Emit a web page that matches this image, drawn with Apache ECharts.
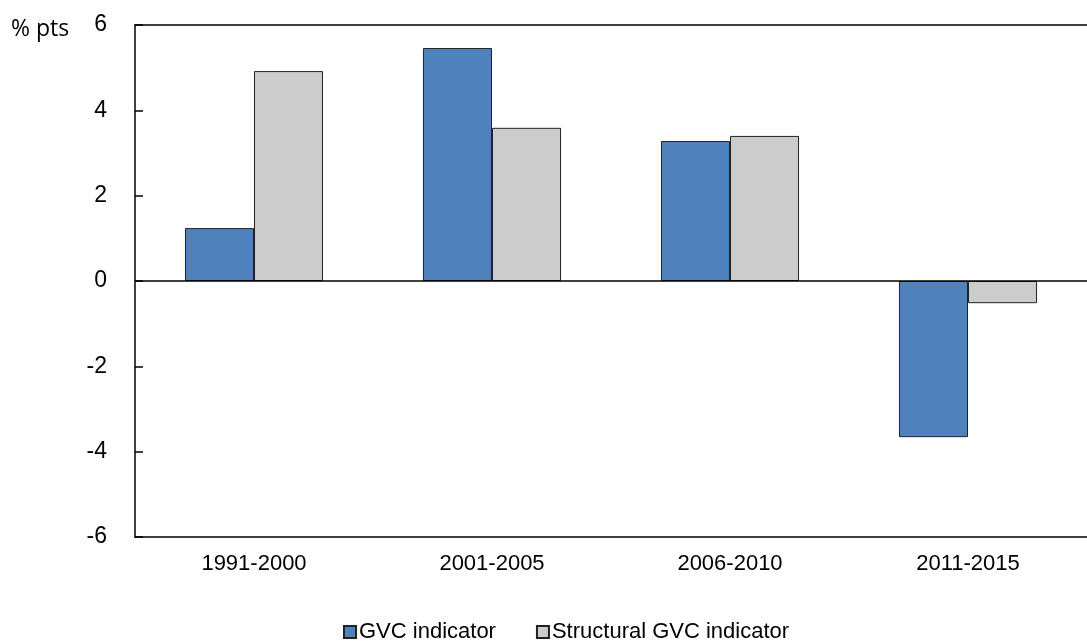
<!DOCTYPE html>
<html>
<head>
<meta charset="utf-8">
<script src="https://cdn.jsdelivr.net/npm/echarts@6/dist/echarts.min.js"></script>
<style>
html,body{margin:0;padding:0;background:#fff;}
#chart{width:1087px;height:644px;}
</style>
</head>
<body>
<div id="chart"></div>
<script>
const categories = ['1991-2000', '2001-2005', '2006-2010', '2011-2015'];
const gvcIndicator = [1.24, 5.46, 3.28, -3.66];
const structuralGvc = [4.92, 3.59, 3.40, -0.52];
const seriesNames = ['GVC indicator', 'Structural GVC indicator'];
const yUnit = '% pts';

const sans = '"Liberation Sans", Arial, sans-serif';
const chart = echarts.init(document.getElementById('chart'));
chart.setOption({
  animation: false,
  backgroundColor: '#fff',
  grid: { left: 135, right: 0, top: 25, bottom: 107 },
  graphic: [{
    type: 'text', left: 11, top: 18,
    style: { text: yUnit, font: '23px "Open Sans", sans-serif', fill: '#000' }
  }],
  legend: {
    left: 338, top: 616, itemGap: 40, itemWidth: 12, itemHeight: 12,
    icon: 'rect',
    textStyle: { fontFamily: sans, fontSize: 22, color: '#000', padding: [0, 0, 0, -2] },
    data: seriesNames
  },
  xAxis: [{
    type: 'category', data: categories, position: 'bottom',
    axisLine: { onZero: false, lineStyle: { color: '#000', width: 1.5 } },
    axisTick: { show: false },
    axisLabel: { fontFamily: sans, fontSize: 22, color: '#000', margin: 16 }
  }, {
    type: 'category', data: categories, position: 'top',
    axisLine: { onZero: false, lineStyle: { color: '#000', width: 1.5 } },
    axisTick: { show: false }, axisLabel: { show: false }
  }],
  yAxis: {
    type: 'value', min: -6, max: 6, interval: 2,
    axisLine: { show: true, lineStyle: { color: '#000', width: 1.5 } },
    axisTick: { show: true, inside: true, length: 8, lineStyle: { color: '#000', width: 1.5 } },
    splitLine: { show: false },
    axisLabel: { fontFamily: sans, fontSize: 23, color: '#000', margin: 28 }
  },
  series: [{
    name: seriesNames[0], type: 'bar', data: gvcIndicator,
    barGap: '0%', barCategoryGap: '42%',
    itemStyle: { color: '#4F81BD', borderColor: '#222', borderWidth: 1 },
    markLine: {
      silent: true, symbol: 'none', label: { show: false },
      lineStyle: { color: '#000', width: 1.5, type: 'solid' },
      data: [{ yAxis: 0 }]
    }
  }, {
    name: seriesNames[1], type: 'bar', data: structuralGvc,
    itemStyle: { color: '#CCCCCC', borderColor: '#222', borderWidth: 1 }
  }]
});
</script>
</body>
</html>
